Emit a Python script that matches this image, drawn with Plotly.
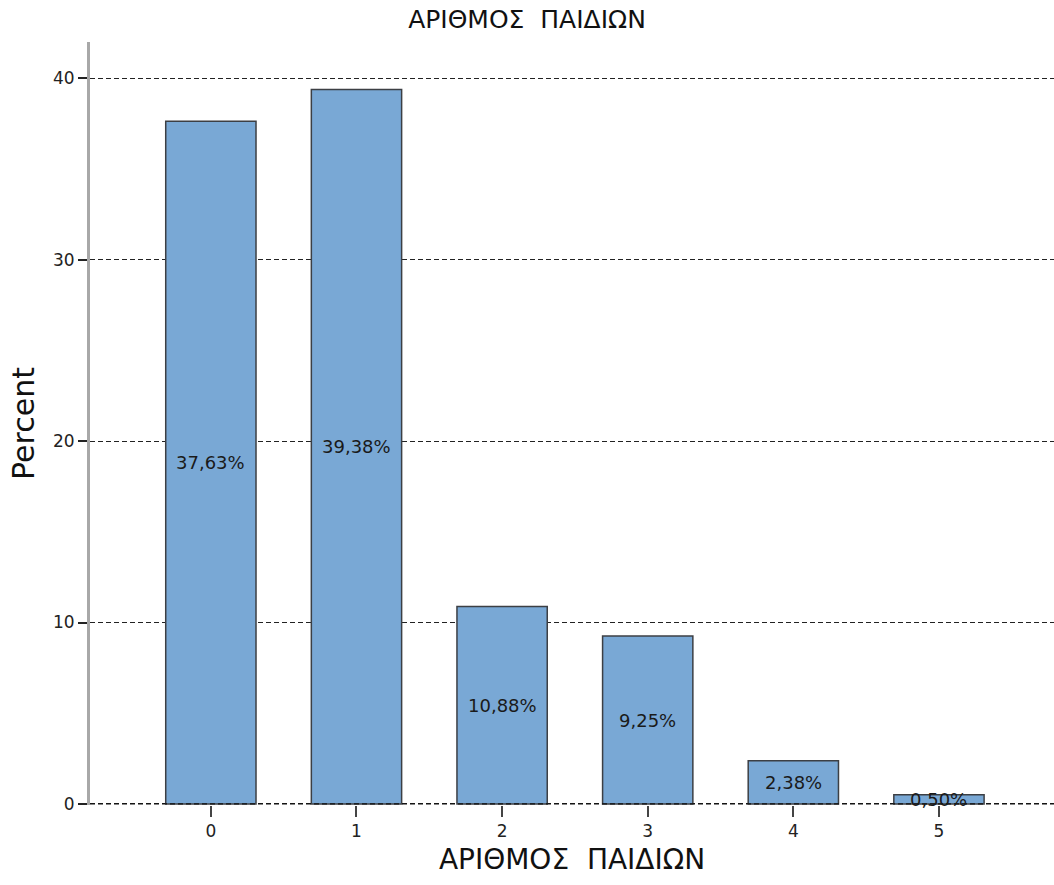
import plotly.graph_objects as go

categories = [0, 1, 2, 3, 4, 5]
percents = [37.63, 39.38, 10.88, 9.25, 2.38, 0.50]
labels = ["37,63%", "39,38%", "10,88%", "9,25%", "2,38%", "0,50%"]
yticks = [0, 10, 20, 30, 40]

font = "DejaVu Sans"

fig = go.Figure()
fig.add_trace(go.Bar(
    x=categories, y=percents, width=0.62,
    marker=dict(color="#79a8d5", line=dict(color="#3c3f44", width=1.5)),
    hoverinfo="skip",
))

for c, p, t in zip(categories, percents, labels):
    fig.add_annotation(x=c, y=p / 2, text=t, showarrow=False,
                       font=dict(family=font, size=18, color="#1a1a1a"))

# dashed reference line at zero (gridline at the axis base)
fig.add_hline(y=yticks[0], line=dict(color="#111", width=1.2, dash="5px,3px"), layer="above")

fig.update_layout(
    width=1054, height=885,
    margin=dict(l=90, r=0, t=42, b=80),
    paper_bgcolor="white", plot_bgcolor="white",
    showlegend=False,
    title=dict(text="ΑΡΙΘΜΟΣ  ΠΑΙΔΙΩΝ", x=0.5, xanchor="center", y=0.978, yanchor="middle",
               font=dict(family=font, size=25, color="#111")),
    xaxis=dict(
        range=[-0.83, 5.79], tickvals=categories, ticktext=[str(c) for c in categories],
        ticks="outside", ticklen=11, tickwidth=2, tickcolor="#444",
        showgrid=False, zeroline=False, showline=False,
        tickfont=dict(family=font, size=17, color="#222"),
        title=dict(text="ΑΡΙΘΜΟΣ  ΠΑΙΔΙΩΝ", font=dict(family=font, size=28, color="#111"), standoff=8),
    ),
    yaxis=dict(
        range=[-0.06, 42.0], tickvals=yticks, ticktext=[str(v) for v in yticks],
        ticks="outside", ticklen=9, tickwidth=2, tickcolor="#222",
        showgrid=True, gridcolor="#222", griddash="5px,3px", gridwidth=1,
        zeroline=False, showline=True, linecolor="#a8a8a8", linewidth=3,
        tickfont=dict(family=font, size=17, color="#222"),
        title=dict(text="Percent", font=dict(family=font, size=30, color="#111"), standoff=10),
    ),
    font=dict(family=font),
)

fig.write_html("out.html")
